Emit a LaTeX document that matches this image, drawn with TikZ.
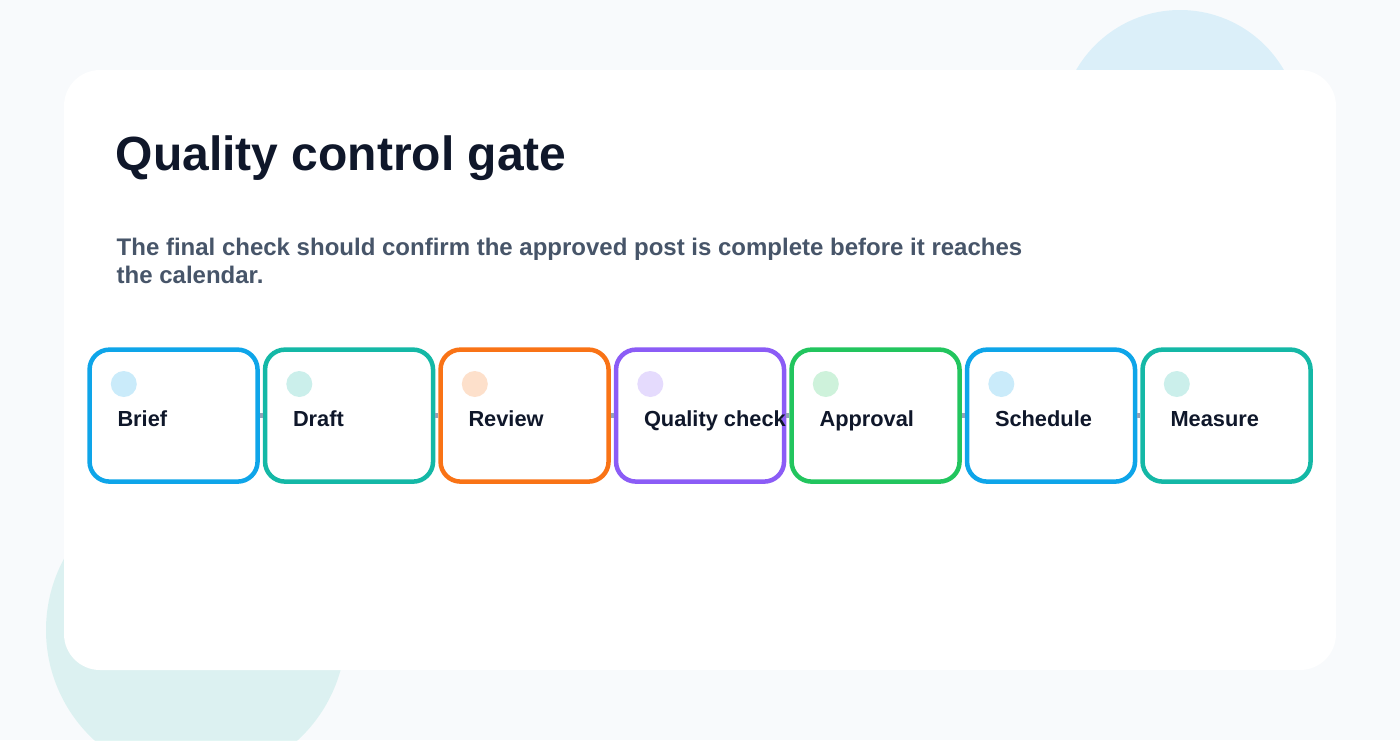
\documentclass[tikz,border=0pt]{standalone}
\usepackage{fontspec}
\setmainfont{Liberation Sans}
\definecolor{bgc}{HTML}{F8FAFC}
\definecolor{ink}{HTML}{0F172A}
\definecolor{subc}{HTML}{475569}
\definecolor{connc}{HTML}{94A3B8}
\definecolor{skyc}{HTML}{0EA5E9}
\definecolor{tealc}{HTML}{14B8A6}
\definecolor{orangec}{HTML}{F97316}
\definecolor{violetc}{HTML}{8B5CF6}
\definecolor{greenc}{HTML}{22C55E}
\begin{document}
\begin{tikzpicture}[x=1pt,y=-1pt,
  stepbox/.style={draw=#1, line width=4.5pt, rounded corners=20pt, fill=white,
    minimum width=168pt, minimum height=132pt, inner sep=0pt},
  stepdot/.style={circle, fill=#1, fill opacity=0.22, minimum size=26pt, inner sep=0pt},
  lbl/.style={anchor=base west, inner sep=0pt, text=ink,
    font=\fontsize{21.8}{25}\selectfont\bfseries},
  conn/.style={draw=connc, line width=5pt}]
\fill[bgc] (0,0) rectangle (1400,740);
\useasboundingbox (0,0) rectangle (1400,740);
% decorative circles
\fill[skyc, opacity=0.12] (1180,130) circle[radius=120pt];
\fill[tealc, opacity=0.12] (196,630) circle[radius=150pt];
% card
\fill[white, rounded corners=36pt] (64,70) rectangle (1336,670);
% title and subtitle
\node[anchor=base west, inner sep=0pt, text=ink, font=\fontsize{48}{54}\selectfont\bfseries] (title) at (115.5,170) {Quality control gate};
\node[anchor=north west, inner sep=0pt, text=subc, align=left,
  font=\fontsize{24}{27.6}\selectfont\bfseries] (sub) at (116.5,238.3)
  {The final check should confirm the approved post is complete before it reaches\\the calendar.};
% boxes
\foreach \i/\col in {1/skyc,2/tealc,3/orangec,4/violetc,5/greenc,6/skyc,7/tealc}{
  \node[stepbox=\col] (b\i) at ({173.55+175.5*(\i-1)},415.6) {};
}
% connectors
\foreach \i in {1,...,6}{
  \pgfmathtruncatemacro{\j}{\i+1}
  \draw[conn] (b\i.east) -- (b\j.west);
}
% dots and labels
\foreach \i/\name/\col in {1/Brief/skyc,2/Draft/tealc,3/Review/orangec,4/Quality check/violetc,5/Approval/greenc,6/Schedule/skyc,7/Measure/tealc}{
  \node[stepdot=\col] (d\i) at ({123.8+175.5*(\i-1)},384) {};
  \node[lbl] (l\i) at ({117.3+175.5*(\i-1)},426) {\name};
}
\end{tikzpicture}
\end{document}
